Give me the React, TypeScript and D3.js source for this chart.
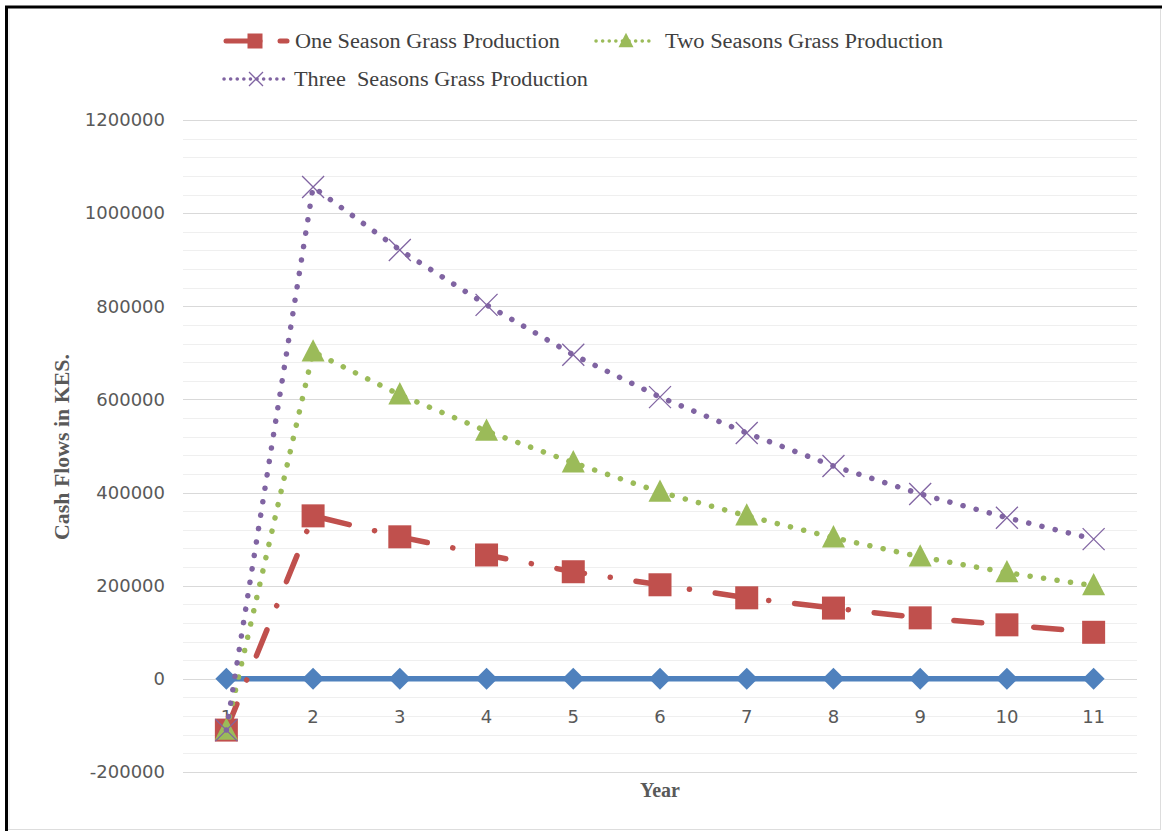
import React from "react";
import * as d3 from "d3";

const years = ["1", "2", "3", "4", "5", "6", "7", "8", "9", "10", "11"];
const baseline = [0, 0, 0, 0, 0, 0, 0, 0, 0, 0, 0];
const oneSeason = [-110000, 350000, 305000, 266000, 230000, 202000, 174000, 152000, 131000, 116000, 100000];
const twoSeasons = [-110000, 702000, 610000, 532000, 464000, 401000, 350000, 303000, 262000, 228000, 200000];
const threeSeasons = [-110000, 1056000, 921000, 803000, 696000, 605000, 528000, 457000, 397000, 346000, 300000];
const yTicks = [-200000, 0, 200000, 400000, 600000, 800000, 1000000, 1200000];
const legendLabels = ["One Season Grass Production", "Two Seasons Grass Production", "Three  Seasons Grass Production"];

const W = 1162, H = 831;
const L = 183, R = 1137, T = 120, B = 772;
const BLUE = "#4F81BD", RED = "#C0504D", GREEN = "#9BBB59", PURPLE = "#8064A2";

export default function App() {
  const x = d3.scalePoint<string>().domain(years).range([L, R]).padding(0.5);
  const y = d3.scaleLinear().domain([-200000, 1200000]).range([B, T]);
  const minor = d3.range(-200000, 1200001, 40000);
  const line = d3.line<number>().x((_, i) => x(years[i])!).y((d) => y(d)).curve(d3.curveLinear);
  const serif = "'Liberation Serif', 'Times New Roman', serif";
  const sans = "'DejaVu Sans', sans-serif";

  const sq = (cx: number, cy: number, s: number, key: any) => (
    <rect key={key} x={cx - s / 2} y={cy - s / 2} width={s} height={s} fill={RED} />
  );
  const tri = (cx: number, cy: number, s: number, key: any) => (
    <path key={key} d={`M${cx},${cy - s * 0.55} L${cx + s / 2},${cy + s * 0.42} L${cx - s / 2},${cy + s * 0.42} Z`} fill={GREEN} />
  );
  const cross = (cx: number, cy: number, s: number, key: any) => (
    <path key={key} d={`M${cx - s / 2},${cy - s / 2} L${cx + s / 2},${cy + s / 2} M${cx + s / 2},${cy - s / 2} L${cx - s / 2},${cy + s / 2}`} stroke={PURPLE} strokeWidth={1.3} fill="none" />
  );
  const dia = (cx: number, cy: number, s: number, key: any) => (
    <path key={key} d={`M${cx},${cy - s / 2} L${cx + s / 2},${cy} L${cx},${cy + s / 2} L${cx - s / 2},${cy} Z`} fill={BLUE} />
  );

  return (
    <svg width={W} height={H} style={{ position: "absolute", left: 0, top: 0, background: "#fff" }}>
      <rect x={0} y={0} width={W} height={H} fill="#fff" />
      {/* frame */}
      <line x1={6.5} y1={6} x2={6.5} y2={831} stroke="#000" strokeWidth={3} />
      <line x1={5} y1={7} x2={1162} y2={7} stroke="#000" strokeWidth={3} />
      <line x1={9} y1={9} x2={9} y2={829} stroke="#e6e6e6" strokeWidth={1} />
      <line x1={1160.5} y1={9} x2={1160.5} y2={829} stroke="#dddddd" strokeWidth={1} />
      <line x1={8} y1={829.5} x2={1161} y2={829.5} stroke="#dddddd" strokeWidth={1} />

      {/* gridlines */}
      {minor.map((v) => (
        <line key={"m" + v} x1={L} x2={R} y1={Math.round(y(v)) + 0.5} y2={Math.round(y(v)) + 0.5} stroke="#efefef" strokeWidth={1} />
      ))}
      {yTicks.map((v) => (
        <line key={"g" + v} x1={L} x2={R} y1={Math.round(y(v)) + 0.5} y2={Math.round(y(v)) + 0.5} stroke="#d9d9d9" strokeWidth={1} />
      ))}

      {/* y tick labels */}
      {yTicks.map((v) => (
        <text key={"t" + v} x={165} y={y(v)} dy="0.35em" textAnchor="end" fontFamily={sans} fontSize={18} fill="#595959">
          {v}
        </text>
      ))}
      {/* x tick labels */}
      {years.map((c) => (
        <text key={"x" + c} x={x(c)} y={717} dy="0.35em" textAnchor="middle" fontFamily={sans} fontSize={18} fill="#595959">
          {c}
        </text>
      ))}

      {/* series */}
      <path d={line(baseline)!} fill="none" stroke={BLUE} strokeWidth={5.5} />
      {baseline.map((v, i) => dia(x(years[i])!, y(v), 22, "d" + i))}

      <path d={line(oneSeason)!} fill="none" stroke={RED} strokeWidth={5.5} strokeLinecap="round" strokeLinejoin="round" strokeDasharray="28 26 0.1 26" />
      {oneSeason.map((v, i) => sq(x(years[i])!, y(v), 23, "s" + i))}

      <path d={line(twoSeasons)!} fill="none" stroke={GREEN} strokeWidth={5.5} strokeLinecap="round" strokeLinejoin="round" strokeDasharray="0.1 13.5" />
      {twoSeasons.map((v, i) => tri(x(years[i])!, y(v), 23, "tr" + i))}

      <path d={line(threeSeasons)!} fill="none" stroke={PURPLE} strokeWidth={5.5} strokeLinecap="round" strokeLinejoin="round" strokeDasharray="0.1 13.5" />
      {threeSeasons.map((v, i) => cross(x(years[i])!, y(v), 22, "c" + i))}

      {/* legend */}
      <g>
        <line x1={226} x2={260} y1={41} y2={41} stroke={RED} strokeWidth={5} strokeLinecap="round" />
        <line x1={280} x2={287} y1={41} y2={41} stroke={RED} strokeWidth={5} strokeLinecap="round" />
        {sq(255, 41, 15, "ls")}
        <text x={295} y={41} dy="0.35em" fontFamily={serif} fontSize={20} fill="#404040" textLength={265} lengthAdjust="spacingAndGlyphs">
          {legendLabels[0]}
        </text>

        <line x1={596} x2={652} y1={41} y2={41} stroke={GREEN} strokeWidth={3.5} strokeLinecap="round" strokeDasharray="0.1 6.5" />
        {tri(626, 41, 15, "lt")}
        <text x={665} y={41} dy="0.35em" fontFamily={serif} fontSize={20} fill="#404040" textLength={278} lengthAdjust="spacingAndGlyphs">
          {legendLabels[1]}
        </text>

        <line x1={224} x2={284} y1={79} y2={79} stroke={PURPLE} strokeWidth={3.5} strokeLinecap="round" strokeDasharray="0.1 6.5" />
        {cross(256, 79, 14, "lc")}
        <text x={294} y={79} dy="0.35em" fontFamily={serif} fontSize={20} fill="#404040" textLength={294} lengthAdjust="spacingAndGlyphs" style={{ whiteSpace: "pre" }}>
          {legendLabels[2]}
        </text>
      </g>

      {/* axis titles */}
      <text transform={`translate(62,447) rotate(-90)`} textAnchor="middle" dy="0.35em" fontFamily={serif} fontWeight="bold" fontSize={20} fill="#595959" textLength={186} lengthAdjust="spacingAndGlyphs">
        Cash Flows in KES.
      </text>
      <text x={660} y={790} textAnchor="middle" dy="0.35em" fontFamily={serif} fontWeight="bold" fontSize={20} fill="#595959">
        Year
      </text>
    </svg>
  );
}
